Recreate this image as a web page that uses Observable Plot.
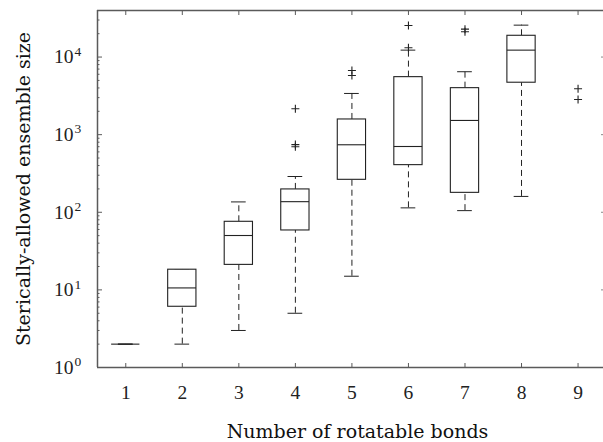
<!DOCTYPE html>
<html><head><meta charset="utf-8">
<script src="https://cdn.jsdelivr.net/npm/d3@7"></script>
<script src="https://cdn.jsdelivr.net/npm/@observablehq/plot@0.6"></script>
<style>html,body{margin:0;padding:0;background:#fff} svg{display:block}</style>
</head><body><div id="chart"></div>
<script>
// ---- data ----
const bonds = [1, 2, 3, 4, 5, 6, 7, 8];
const lowerWhisker = [2, 2, 3.0, 5.0, 15.0, 114, 105, 160];
const q1 = [2, 6.06, 21, 58.3, 262, 405, 178, 4670];
const median = [2, 10.6, 50.2, 137, 741, 704, 1525, 12280];
const q3 = [2, 18.2, 75.4, 197, 1570, 5510, 3975, 18800];
const upperWhisker = [2, 18.2, 136, 289, 3396, 12280, 6470, 25770];
const outlierBonds = [4, 4, 4, 5, 5, 6, 6, 7, 7, 9, 9];
const outlierValues = [2157, 700, 745, 6720, 5790, 13180, 25540, 22900, 21200, 3900, 2840];
const xTicks = [1, 2, 3, 4, 5, 6, 7, 8, 9];
const yTicks = [1, 10, 100, 1000, 10000];
const yExponents = ["0", "1", "2", "3", "4"];
const xLabel = "Number of rotatable bonds";
const yLabel = "Sterically-allowed ensemble size";

// ---- tables built from the arrays ----
const boxes = bonds.map((b, i) => ({x: b, lo: lowerWhisker[i], q1: q1[i], med: median[i], q3: q3[i], hi: upperWhisker[i]}));
const outliers = outlierBonds.map((b, i) => ({x: b, y: outlierValues[i]}));
const minorTicks = [];
for (let e = 0; e <= 4; e++) for (let m = 2; m <= 9; m++) { const v = m * 10 ** e; if (v < 39800) minorTicks.push(v); }
const yLabelTable = yTicks.map((v, i) => ({v, e: yExponents[i]}));

const plusSymbol = {
  draw(ctx, size) {
    const r = Math.sqrt(size / Math.PI);
    ctx.moveTo(-r, 0); ctx.lineTo(r, 0);
    ctx.moveTo(0, -r); ctx.lineTo(0, r);
  }
};

const ink = "#222";
const frameInk = "#5a5a5a";
const tickFont = "Liberation Serif";
const titleFont = "DejaVu Serif";
const hw = 0.25, cw = 0.13;

const chart = Plot.plot({
  width: 603,
  height: 442,
  marginLeft: 97,
  marginRight: 0,
  marginTop: 10,
  marginBottom: 75,
  style: {background: "#fff", fontFamily: tickFont},
  x: {type: "linear", domain: [0.5, 9.45], axis: null, label: null},
  y: {type: "log", domain: [1, 39800], axis: null, label: null},
  marks: [
    // axis ticks (inward)
    Plot.axisX(xTicks, {anchor: "bottom", tickSize: -4, fill: "none", stroke: frameInk}),
    Plot.axisX(xTicks, {anchor: "top", tickSize: -4, fill: "none", stroke: frameInk}),
    Plot.axisY(yTicks, {anchor: "left", tickSize: -5, fill: "none", stroke: frameInk}),
    Plot.axisY(minorTicks, {anchor: "left", tickSize: -2.5, fill: "none", stroke: frameInk}),
    Plot.axisY(yTicks, {anchor: "right", tickSize: -3, fill: "none", stroke: "#888"}),
    // x tick labels
    Plot.axisX(xTicks, {anchor: "bottom", tickSize: 0, tickPadding: 18, fontSize: 19.5, fill: "#222", tickFormat: d => String(d), fontFamily: tickFont}),
    // y tick labels 10^n
    Plot.text(yLabelTable, {frameAnchor: "left", y: "v", text: () => "10", textAnchor: "end", dx: -24, fontSize: 19.5, fill: "#222", fontFamily: tickFont}),
    Plot.text(yLabelTable, {frameAnchor: "left", y: "v", text: "e", textAnchor: "start", dx: -23, dy: -5.5, fontSize: 13.5, fill: "#222", fontFamily: tickFont}),
    // frame (left, bottom, top)
    Plot.ruleX([0.5], {stroke: frameInk, strokeWidth: 1.5}),
    Plot.ruleY([1], {stroke: frameInk, strokeWidth: 1.5}),
    Plot.ruleY([39800], {stroke: frameInk, strokeWidth: 1.5}),
    // whiskers
    Plot.ruleX(boxes, {x: "x", y1: "q3", y2: "hi", stroke: ink, strokeDasharray: "6,4"}),
    Plot.ruleX(boxes, {x: "x", y1: "lo", y2: "q1", stroke: ink, strokeDasharray: "6,4"}),
    Plot.ruleY(boxes, {x1: d => d.x - cw, x2: d => d.x + cw, y: "hi", stroke: ink}),
    Plot.ruleY(boxes, {x1: d => d.x - cw, x2: d => d.x + cw, y: "lo", stroke: ink}),
    // boxes and medians
    Plot.rect(boxes, {x1: d => d.x - hw, x2: d => d.x + hw, y1: "q1", y2: "q3", fill: "white", stroke: ink, strokeWidth: 1.1}),
    Plot.ruleY(boxes, {x1: d => d.x - hw, x2: d => d.x + hw, y: "med", stroke: ink, strokeWidth: 1.1}),
    // outliers
    Plot.dot(outliers, {x: "x", y: "y", symbol: plusSymbol, r: 4, fill: "none", stroke: ink, strokeWidth: 1.1}),
    // axis titles
    Plot.text([xLabel], {frameAnchor: "bottom", textAnchor: "middle", dx: 7, dy: 64, lineAnchor: "middle", fontSize: 19, fill: "#111", fontFamily: titleFont}),
    Plot.text([yLabel], {frameAnchor: "left", textAnchor: "middle", rotate: -90, dx: -74, lineAnchor: "middle", fontSize: 19, fill: "#111", fontFamily: titleFont})
  ]
});
document.getElementById("chart").appendChild(chart);
</script>
</body></html>
